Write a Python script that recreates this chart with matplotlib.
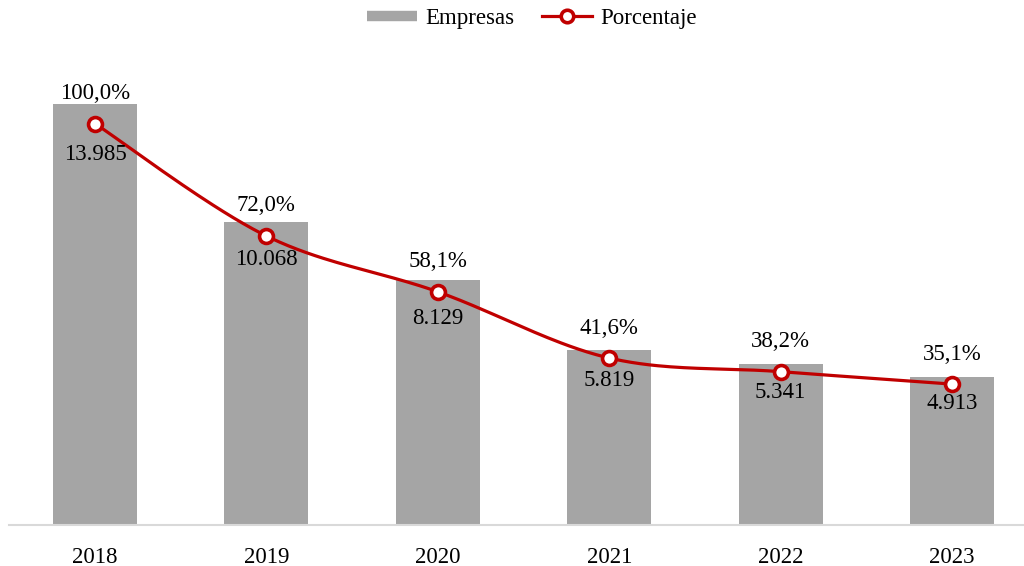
import numpy as np
import matplotlib
matplotlib.use("Agg")
import matplotlib.pyplot as plt
from matplotlib.lines import Line2D

years = ["2018", "2019", "2020", "2021", "2022", "2023"]
empresas = [13985, 10068, 8129, 5819, 5341, 4913]
porcentaje = [100.0, 72.0, 58.1, 41.6, 38.2, 35.1]
empresas_labels = ["13.985", "10.068", "8.129", "5.819", "5.341", "4.913"]
porcentaje_labels = ["100,0%", "72,0%", "58,1%", "41,6%", "38,2%", "35,1%"]

# style: per-label vertical offsets (pixels below marker) for the value labels
value_offsets_px = [31, 24, 27, 22, 21, 19]

plt.rcParams['font.family'] = ['Liberation Serif', 'DejaVu Serif']
FS = 16.5
BAR = '#A5A5A5'
RED = '#C00000'

fig = plt.figure(figsize=(10.24, 5.66), dpi=100)
ax = fig.add_axes([9.3/1024, 1-525/566, (1037.7-9.3)/1024, 481.7/566])
ax2 = ax.twinx()

x = np.arange(len(years))
ax.bar(x, empresas, width=0.49, color=BAR, zorder=2)
ax.set_ylim(0, 16000)
ax.set_xlim(-0.5, len(years)-0.5)
ax2.set_ylim(0, 120)

# Catmull-Rom smoothing (like Excel's smoothed line)
def smooth(xs, ys, n=40):
    xs = np.asarray(xs, float); ys = np.asarray(ys, float)
    px = np.concatenate([[xs[0]], xs, [xs[-1]]])
    py = np.concatenate([[ys[0]], ys, [ys[-1]]])
    outx, outy = [], []
    for i in range(1, len(px)-2):
        p0 = np.array([px[i-1], py[i-1]]); p1 = np.array([px[i], py[i]])
        p2 = np.array([px[i+1], py[i+1]]); p3 = np.array([px[i+2], py[i+2]])
        c1 = p1 + (p2 - p0)/6.0
        c2 = p2 - (p3 - p1)/6.0
        t = np.linspace(0, 1, n)[:, None]
        b = (1-t)**3*p1 + 3*(1-t)**2*t*c1 + 3*(1-t)*t**2*c2 + t**3*p2
        outx.extend(b[:, 0]); outy.extend(b[:, 1])
    return np.array(outx), np.array(outy)

# smoothing in a scaled space so curvature resembles pixel space
sx, sy = smooth(x*171.4, np.array(porcentaje)*4.017)
ax2.plot(sx/171.4, sy/4.017, color=RED, lw=2.3, zorder=3, solid_capstyle='round')
ax2.plot(x, porcentaje, ls='none', marker='o', ms=10, mfc='white', mec=RED, mew=2.6, zorder=4)

for xi, p, pl, el, off in zip(x, porcentaje, porcentaje_labels, empresas_labels, value_offsets_px):
    ax2.annotate(pl, (xi, p), xytext=(0, 30*0.72), textcoords='offset points',
                 ha='center', va='center', fontsize=FS, color='black', zorder=5)
    ax2.annotate(el, (xi, p), xytext=(0, -off*0.72), textcoords='offset points',
                 ha='center', va='center', fontsize=FS, color='black', zorder=5)

for a in (ax, ax2):
    for s in ('top', 'right', 'left'):
        a.spines[s].set_visible(False)
    a.set_yticks([])
ax.spines['bottom'].set_color('#D9D9D9')
ax.spines['bottom'].set_linewidth(1.5)
ax2.spines['bottom'].set_visible(False)
ax.set_xticks(x)
ax.set_xticklabels(years, fontsize=FS)
ax.tick_params(axis='x', length=0, pad=15.5)
ax.set_zorder(1)
ax2.set_zorder(2)
ax.patch.set_visible(False)
ax2.patch.set_visible(False)

handles = [
    Line2D([], [], color=BAR, lw=7.5, solid_capstyle='butt'),
    Line2D([], [], color=RED, lw=2.3, marker='o', ms=9, mfc='white', mec=RED, mew=2.6),
]
fig.legend(handles, ['Empresas', 'Porcentaje'], loc='center', bbox_to_anchor=(532/1024, 1-18.5/566),
           ncol=2, frameon=False, fontsize=FS, handlelength=2.2, handletextpad=0.35,
           columnspacing=1.2, borderpad=0)

fig.savefig('out.png', dpi=100)
